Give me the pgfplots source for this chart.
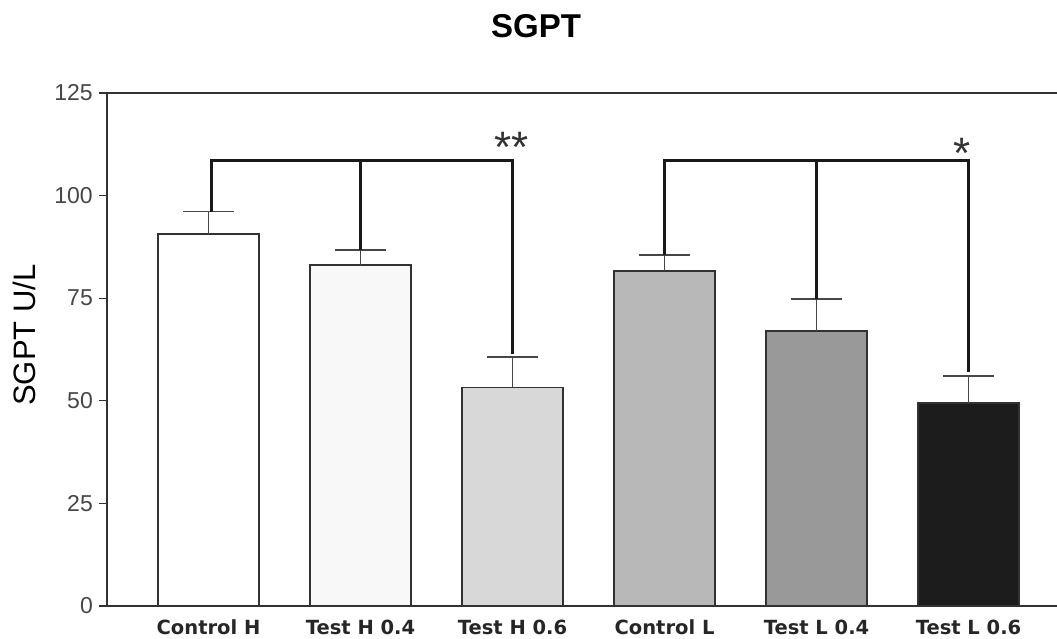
\documentclass[border=0pt]{standalone}
\usepackage{pgfplots}
\pgfplotsset{compat=1.18}
\usepackage{fontspec}
\setmainfont{Liberation Sans}
\newfontfamily\labfont{DejaVu Sans}
\definecolor{edge}{RGB}{50,50,50}
\definecolor{tickc}{RGB}{70,70,70}
\definecolor{c1}{RGB}{255,255,255}
\definecolor{c2}{RGB}{248,248,248}
\definecolor{c3}{RGB}{216,216,216}
\definecolor{c4}{RGB}{184,184,184}
\definecolor{c5}{RGB}{153,153,153}
\definecolor{c6}{RGB}{28,28,28}
\begin{document}
\begin{tikzpicture}
\useasboundingbox (0,0) rectangle (1057pt,639pt);
\begin{axis}[
  at={(107pt,33pt)}, anchor=south west,
  width=950pt, height=513pt, scale only axis,
  xmin=-0.668, xmax=5.582, ymin=0, ymax=125,
  axis x line*=box, axis y line*=left,
  axis line style={edge, line width=1.3pt},
  xtick={0,1,2,3,4,5},
  xticklabels={Control H, Test H 0.4, Test H 0.6, Control L, Test L 0.4, Test L 0.6},
  xtick pos=bottom,
  x tick style={draw=none},
  xticklabel style={font=\labfont\fontsize{19.5}{21}\selectfont\bfseries, text=black!85, anchor=north, inner sep=0pt, yshift=-5.5pt},
  ytick={0,25,50,75,100,125},
  ytick pos=left,
  tick align=outside,
  y tick style={edge, line width=1.2pt},
  major tick length=8pt,
  yticklabel style={font=\fontsize{23}{26}\selectfont, text=tickc, inner sep=0pt, xshift=-6pt},
  /pgf/number format/assume math mode=true,
  ylabel={SGPT U/L},
  ylabel style={font=\fontsize{31}{34}\selectfont, at={(axis description cs:-0.0874,0.528)}, anchor=center},
  title={\bfseries SGPT},
  title style={font=\fontsize{33}{36}\selectfont, at={(axis description cs:0.4516,1.118)}, anchor=center},
  ybar, bar width=0.665, bar shift=0pt,
  error bars/y dir=plus, error bars/y explicit,
  error bars/error bar style={tickc, line width=1.6pt},
  error bars/error mark options={rotate=90, mark size=25.5pt, line width=1.6pt, tickc},
  clip=false,
]
\addplot[fill=c1, draw=edge, line width=1.4pt] coordinates {(0,90.6) +- (0,5.5)};
\addplot[fill=c2, draw=edge, line width=1.4pt] coordinates {(1,83.1) +- (0,3.6)};
\addplot[fill=c3, draw=edge, line width=1.4pt] coordinates {(2,53.3) +- (0,7.4)};
\addplot[fill=c4, draw=edge, line width=1.4pt] coordinates {(3,81.6) +- (0,3.9)};
\addplot[fill=c5, draw=edge, line width=1.4pt] coordinates {(4,67.0) +- (0,7.8)};
\addplot[fill=c6, draw=edge, line width=1.4pt] coordinates {(5,49.5) +- (0,6.6)};
% significance brackets
\addplot[sharp plot, no marks, black!90, line width=2.8pt, error bars/y dir=none] coordinates {(0.02,96.1) (0.02,108.5) (2.0,108.5) (2.0,61.5)};
\addplot[sharp plot, no marks, black!90, line width=2.8pt, error bars/y dir=none] coordinates {(1.0,108.5) (1.0,86.7)};
\addplot[sharp plot, no marks, black!90, line width=2.8pt, error bars/y dir=none] coordinates {(3.0,85.5) (3.0,108.5) (5.0,108.5) (5.0,57.0)};
\addplot[sharp plot, no marks, black!90, line width=2.8pt, error bars/y dir=none] coordinates {(4.0,108.5) (4.0,74.8)};
\node[font=\fontsize{44}{46}\selectfont, text=black!80, inner sep=0pt] at (axis cs:1.995,111.8) {**};
\node[font=\fontsize{44}{46}\selectfont, text=black!80, inner sep=0pt] at (axis cs:4.96,110.2) {*};
\end{axis}
\end{tikzpicture}
\end{document}
